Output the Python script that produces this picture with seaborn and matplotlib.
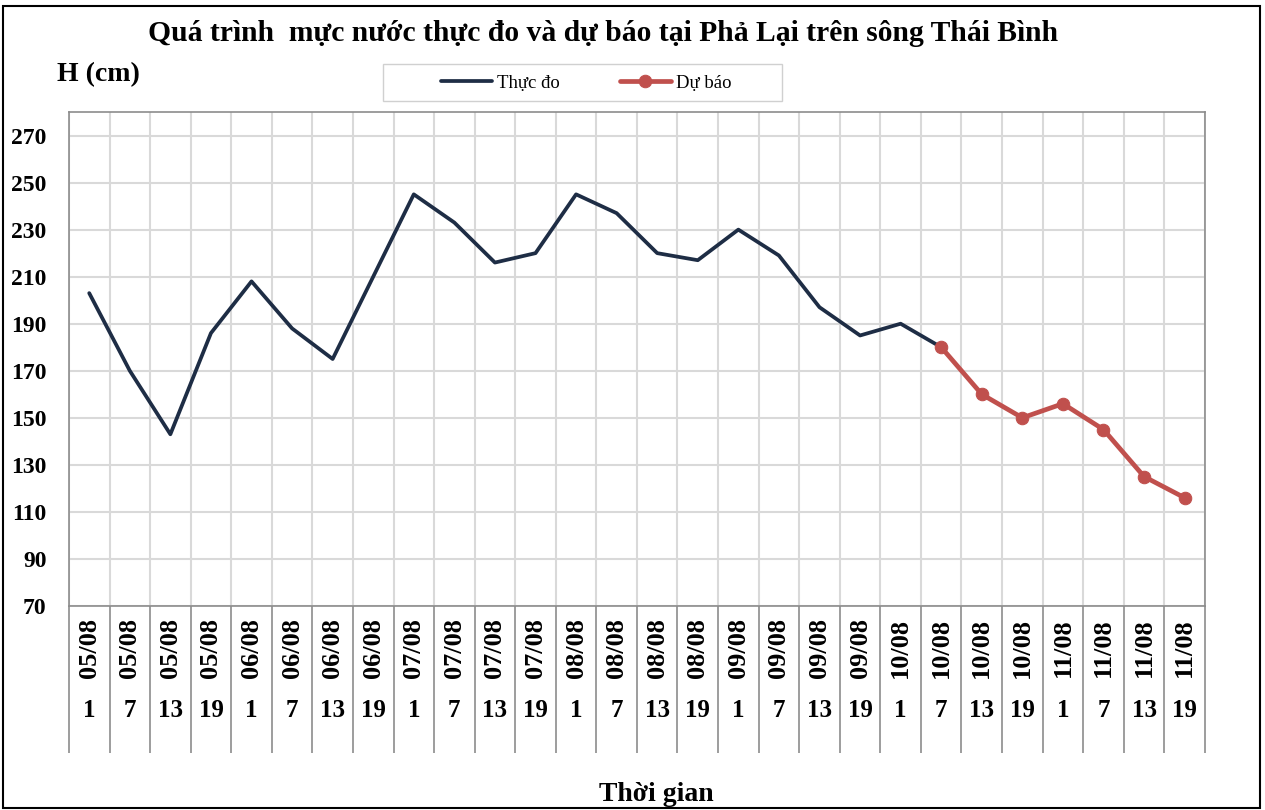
import numpy as np
import pandas as pd
import matplotlib
matplotlib.use("Agg")
import matplotlib.pyplot as plt
import matplotlib.transforms as mtransforms
from matplotlib.patches import Rectangle
import seaborn as sns

days = ["05/08", "06/08", "07/08", "08/08", "09/08", "10/08", "11/08"]
hours = ["1", "7", "13", "19"]
date_labels = [d for d in days for h in hours]
hour_labels = [h for d in days for h in hours]

observed = [203, 170, 143, 186, 208, 188, 175, 210, 245, 233, 216, 220,
            245, 237, 220, 217, 230, 219, 197, 185, 190, 180]
forecast = [180, 160, 150, 156, 145, 125, 116]
forecast_start = 21

obs_df = pd.DataFrame({"idx": range(len(observed)), "H": observed})
fc_df = pd.DataFrame({"idx": range(forecast_start, forecast_start + len(forecast)), "H": forecast})

sns.set_style("white")
plt.rcParams["font.family"] = ["Liberation Serif", "DejaVu Serif"]
plt.rcParams["text.color"] = "black"
plt.rcParams["xtick.labelcolor"] = "black"
plt.rcParams["ytick.labelcolor"] = "black"

fig = plt.figure(figsize=(12.65, 8.1), dpi=100)
ax = fig.add_axes([0.0545, 0.2519, 0.898, 0.6098])

navy = "#1E2D45"
red = "#C0504D"
sns.lineplot(data=obs_df, x="idx", y="H", ax=ax, color=navy, lw=2.7, label="Thực đo")
sns.lineplot(data=fc_df, x="idx", y="H", ax=ax, color=red, lw=3.4, marker="o",
             markersize=9, markeredgecolor=red, label="Dự báo")

n = len(date_labels)
ax.set_xlim(-0.5, n - 0.5)
ax.set_ylim(70, 280)
ax.set_yticks(np.arange(70, 271, 20))
ax.set_xticks(np.arange(n))
ax.set_xticks(np.arange(-0.5, n, 1), minor=True)
ax.set_xticklabels(date_labels, rotation=90, fontsize=19, fontweight="bold")
ax.tick_params(axis="x", which="both", bottom=True)
ax.tick_params(axis="x", which="major", length=0, pad=9)
ax.tick_params(axis="x", which="minor", length=106, color="#8C8C8C", width=1.2)
ax.tick_params(axis="y", length=0, pad=16, labelsize=17)
for t in ax.get_yticklabels():
    t.set_fontweight("bold")
ax.grid(True, axis="y", color="#D9D9D9", lw=1.5)
ax.grid(True, axis="x", which="minor", color="#D9D9D9", lw=1.5)
ax.set_axisbelow(True)
for s in ax.spines.values():
    s.set_color("#8C8C8C")
    s.set_linewidth(1.2)
ax.set_xlabel("")
ax.set_ylabel("")

trans = mtransforms.blended_transform_factory(ax.transData, ax.transAxes)
for i, h in enumerate(hour_labels):
    ax.text(i, -0.2125, h, transform=trans, ha="center", va="center",
            fontsize=18, fontweight="bold")

ax.get_legend().remove()
handles, labels = ax.get_legend_handles_labels()
fig.add_artist(Rectangle((0.3028, 0.8753), 0.3154, 0.0457, transform=fig.transFigure,
                         fill=False, ec="#D0D0D0", lw=1.0))
fig.legend(handles, labels, ncol=2, loc="center",
           bbox_to_anchor=(0.4635, 0.8975), frameon=False, fontsize=13.5,
           handlelength=2.7, handletextpad=0.3, columnspacing=3.2)

fig.text(0.477, 0.959, "Quá trình  mực nước thực đo và dự báo tại Phả Lại trên sông Thái Bình",
         ha="center", va="center", fontsize=21.3, fontweight="bold")
fig.text(0.045, 0.908, "H (cm)", ha="left", va="center", fontsize=20, fontweight="bold")
fig.text(0.519, 0.019, "Thời gian", ha="center", va="center", fontsize=20, fontweight="bold")

fig.add_artist(Rectangle((0.002, 0.003), 0.994, 0.99, transform=fig.transFigure,
                         fill=False, ec="black", lw=1.5))

fig.savefig("out.png", dpi=100)
